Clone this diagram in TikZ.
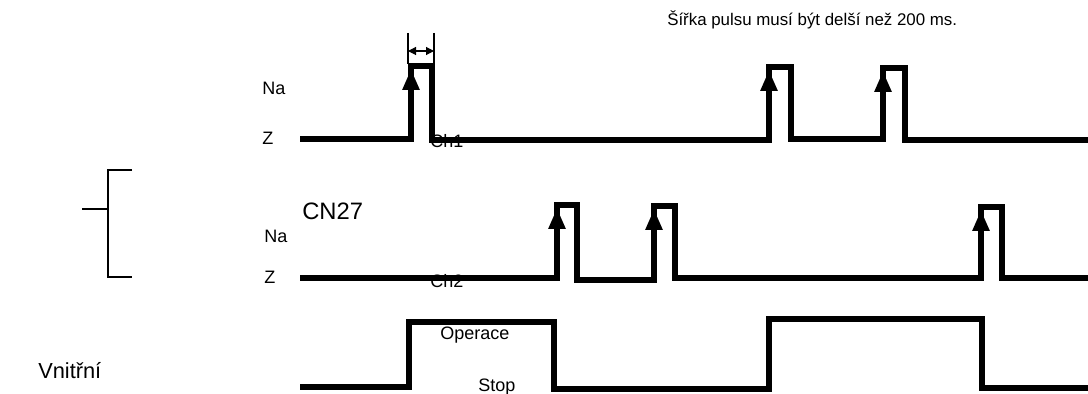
\documentclass[tikz,border=0pt]{standalone}
\usepackage{fontspec}
\setmainfont{Liberation Sans}
\usetikzlibrary{arrows.meta}

\begin{document}
\begin{tikzpicture}[
    x=0.025cm, y=-0.025cm,
    signal/.style={line width=3.6pt, line join=miter},
    edgearrow/.style={line width=3.6pt, -{Triangle[length=0.52cm, width=0.4cm]}},
    dimline/.style={line width=0.8pt},
    dimarrow/.style={line width=0.8pt, {Triangle[length=0.2cm, width=0.2cm]}-{Triangle[length=0.2cm, width=0.2cm]}},
    bracketline/.style={line width=1.4pt},
    lbl/.style={inner sep=0pt, anchor=base west, font=\fontsize{12.8}{14}\selectfont}
]
\useasboundingbox (0,0) rectangle (1088,394);

% Top note and pulse width mark
\node[lbl, font=\fontsize{12}{14}\selectfont] (note) at (667,26) {Šířka pulsu musí být delší než 200 ms.};
\coordinate (w1) at (408,33);
\coordinate (w2) at (434,33);
\draw[dimline] (w1) -- (408,64);
\draw[dimline] (w2) -- (434,64);
\draw[dimarrow] (408,51) -- (434,51);

% Ch1 signal
\draw[signal] (300,139) -- (411,139) -- (411,66) -- (432,66) -- (432,140) -- (769,140) -- (769,67) -- (791,67) -- (791,139)
    -- (883,139) -- (883,68) -- (905,68) -- (905,140) -- (1088,140);
\foreach \x/\y in {411/66, 769/67, 883/68}
    \draw[edgearrow] (\x,139) -- (\x,\y+3);

% Ch2 signal
\draw[signal] (300,278) -- (557,278) -- (557,205) -- (577,205) -- (577,280) -- (654,280) -- (654,206) -- (675,206) -- (675,278)
    -- (981,278) -- (981,207) -- (1002,207) -- (1002,278) -- (1088,278);
\foreach \x/\y in {557/205, 654/206, 981/207}
    \draw[edgearrow] (\x,278) -- (\x,\y+3);

% Internal signal
\draw[signal] (300,387) -- (409,387) -- (409,322) -- (554,322) -- (554,389) -- (769,389) -- (769,319) -- (982,319) -- (982,388) -- (1088,388);

% Bracket
\draw[bracketline] (132,170) -- (108,170) -- (108,277) -- (132,277);
\draw[bracketline] (82,209) -- (108,209);

% Labels
\node[lbl] (na1) at (262,95) {Na};
\node[lbl] (z1) at (262,145) {Z};
\node[lbl] (ch1) at (430,148) {Ch1};
\node[lbl] (na2) at (264,242) {Na};
\node[lbl, font=\fontsize{16.9}{18}\selectfont] (cn) at (302,220) {CN27};
\node[lbl] (z2) at (264,283) {Z};
\node[lbl] (ch2) at (430,287) {Ch2};
\node[lbl] (oper) at (440,339) {Operace};
\node[lbl] (stop) at (478,391) {Stop};
\node[lbl, font=\fontsize{15.5}{17}\selectfont] (vnitr) at (38,378) {Vnitřní};

\end{tikzpicture}
\end{document}
